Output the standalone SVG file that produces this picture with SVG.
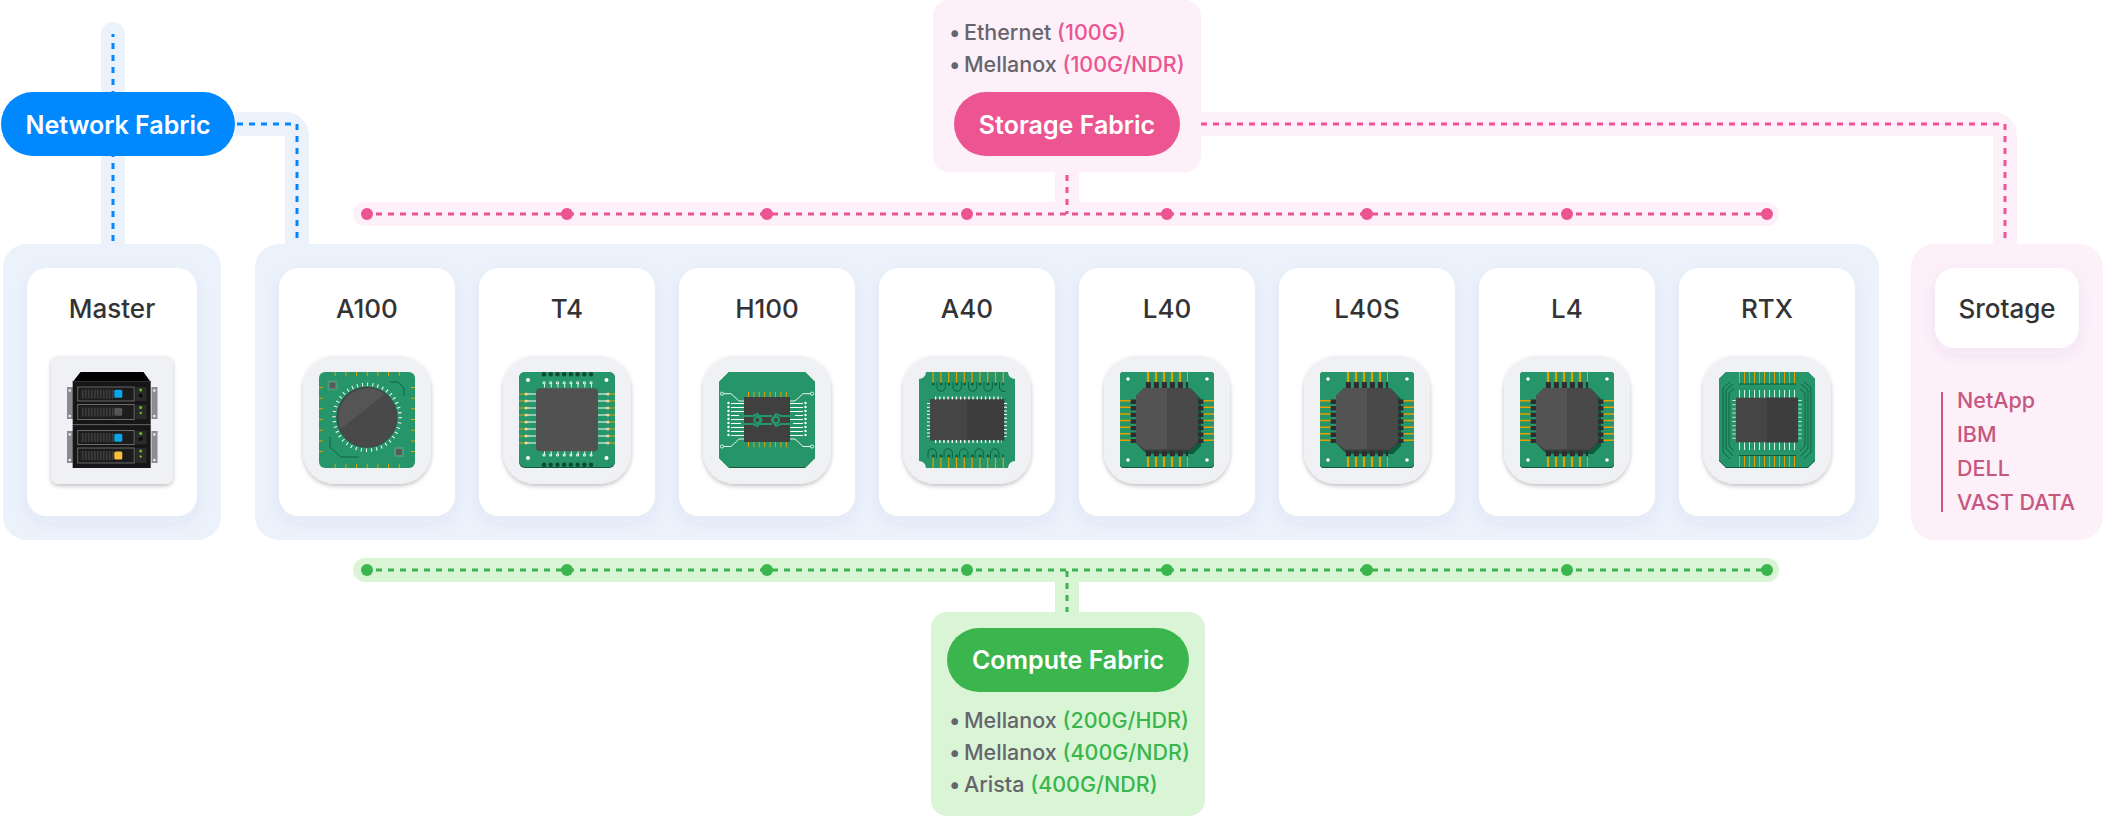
<svg xmlns="http://www.w3.org/2000/svg" width="2103" height="816" viewBox="0 0 2103 816">
<style>
text{font-family:Inter,"Noto Sans","Liberation Sans",sans-serif}
.name{font-size:26px;font-weight:500;fill:#333336;text-anchor:middle}
.pilltxt{font-size:25px;font-weight:600;fill:#fff;text-anchor:middle}
.li{font-size:21.500px;font-weight:500;fill:#65656c}
.pk{fill:#ec5591}.gn{fill:#3bb54d}
.vend{font-size:21.500px;font-weight:500;fill:#c6577f}
.card{fill:#fff;filter:url(#cs)}
.tile{fill:#f0f1f5;filter:url(#ts)}
.chip{filter:url(#soft)}
.dash{fill:none;stroke-width:3;stroke-dasharray:6 6;stroke-dashoffset:3}
.band{fill:none;stroke-width:24}
.gold{fill:none;stroke:#e69f00}
.wh{fill:none;stroke:#fff}
.pcb{fill:#259569}
.edge{fill:#0c5a3c}
.trace{fill:none;stroke:#0d5c3d;stroke-width:.9}
</style>
<defs>
<filter id="cs" x="-20%" y="-20%" width="140%" height="140%"><feDropShadow dx="0" dy="6" stdDeviation="8" flood-color="#3a4a78" flood-opacity=".06"/></filter>
<filter id="ts" x="-20%" y="-20%" width="140%" height="140%"><feDropShadow dx="0" dy="2" stdDeviation="2" flood-color="#000" flood-opacity=".25"/></filter>
<filter id="soft" x="-5%" y="-5%" width="110%" height="110%"><feGaussianBlur stdDeviation=".3"/></filter>
<g id="a100">
<rect width="96" height="96" rx="6" class="pcb"/>
<path d="M15.700 2H81" class="gold" stroke-width="4" stroke-dasharray="1 9.680"/>
<path d="M15.700 94H81" class="gold" stroke-width="4" stroke-dasharray="1 9.680"/>
<path d="M2 15V81" class="gold" stroke-width="4" stroke-dasharray="1 9.680"/>
<path d="M94 15V81" class="gold" stroke-width="4" stroke-dasharray="1 9.680"/>
<rect x="8.500" y="8.500" width="10" height="10" fill="#4c9a7c"/><rect x="10.500" y="10.500" width="6" height="6" fill="#5a5a5a"/>
<rect x="75" y="75" width="10" height="10" fill="#4c9a7c"/><rect x="77" y="77" width="6" height="6" fill="#5a5a5a"/>
<path d="M71 10H79L85 16V24M11 65V75L22 85H40" class="trace"/>
<circle cx="48" cy="45.300" r="33" class="wh" stroke-width="3.500" stroke-dasharray="1 4.180"/>
<circle cx="48" cy="45.300" r="30.500" fill="#3f3f41"/>
<circle cx="48" cy="45.300" r="29.800" fill="#4a4a4a"/>
<path d="M21.500 57A29.500 29.500 0 0 1 66 22Z" fill="#555"/>
</g>
<g id="t4">
<rect width="96" height="96" rx="6" class="edge"/>
<path d="M0 6a6 6 0 0 1 6-6H90a6 6 0 0 1 6 6V89a6 6 0 0 1-6 6H6a6 6 0 0 1-6-6Z" class="pcb"/>
<path d="M25 2.200H74M25 92.800H74" fill="none" stroke="#0b4a32" stroke-width="4.400" stroke-linecap="round" stroke-dasharray="0 6.720"/>
<path d="M25 13H74M25 81H74" class="wh" stroke-width="5" stroke-opacity=".85" stroke-dasharray="1 5.720"/>
<path d="M25 10.700H74M25 83H74" fill="none" stroke="#fff" stroke-width="3" stroke-linecap="round" stroke-dasharray="0 6.720"/>
<path d="M25 10.700H74M25 83H74" fill="none" stroke="#259569" stroke-width="1.200" stroke-linecap="round" stroke-dasharray="0 6.720"/>
<path d="M5 21.600V73M91 21.600V73" class="gold" stroke-width="10" stroke-dasharray="1 6"/>
<path d="M11.500 21.600V73M84.500 21.600V73" class="wh" stroke-width="11" stroke-dasharray="1 6"/>
<path d="M7 22V73M89 22V73" fill="none" stroke="#ecd9a8" stroke-width="3" stroke-linecap="round" stroke-dasharray="0 7"/>
<circle cx="9" cy="8" r="2" fill="#fff"/><circle cx="87.500" cy="8" r="2" fill="#fff"/><circle cx="9" cy="86" r="2" fill="#fff"/><circle cx="87.500" cy="86" r="2" fill="#fff"/>
<rect x="17" y="16.300" width="62" height="63" rx="4" fill="#515151"/>
</g>
<g id="h100">
<path d="M10 0H86L96 10V86L86 96H10L0 86V10Z" class="edge"/>
<path d="M10 0H86L96 10V86L87 95H9L0 86V10Z" class="pcb"/>
<path d="M29 22.500H68M29 72.500H68" class="gold" stroke-width="5.500" stroke-dasharray="1 4.400"/>
<rect x="25" y="25" width="46" height="45" fill="#3f3f3f"/>
<path d="M18.500 31V66M77.500 31V66" class="wh" stroke-width="13" stroke-dasharray=".9 3.100"/>
<path d="M9.500 31V66M86.500 31V66" fill="none" stroke="#fff" stroke-width="2.400" stroke-linecap="round" stroke-dasharray="0 4"/>
<path d="M3 21.700H12L20 29H25M93 21.700H84L76 29H71M3 74.500H12L20 67H25M93 74.500H84L76 67H71" class="wh" stroke-width=".9"/>
<circle cx="3" cy="21.700" r="1.600" class="pcb" stroke="#fff" stroke-width=".8"/><circle cx="93" cy="21.700" r="1.600" class="pcb" stroke="#fff" stroke-width=".8"/><circle cx="3" cy="74.500" r="1.600" class="pcb" stroke="#fff" stroke-width=".8"/><circle cx="93" cy="74.500" r="1.600" class="pcb" stroke="#fff" stroke-width=".8"/>
<path d="M20 44H34L38.300 42 42.600 48 38.300 54 34 52H22M76 44H62L57 42 52.700 48 57 54 62 52H74M38 44H53M38 52H53" fill="none" stroke="#259569" stroke-width="2.200"/>
<circle cx="38.300" cy="48" r="3" fill="none" stroke="#259569" stroke-width="2.200"/><circle cx="57" cy="48" r="3" fill="none" stroke="#259569" stroke-width="2.200"/>
</g>
<g id="a40">
<path d="M7 0H89A7 7 0 0 0 96 7V89A7 7 0 0 0 89 96H7A7 7 0 0 0 0 89V7A7 7 0 0 0 7 0Z" class="pcb"/>
<path d="M13.500 6.500H85M13.500 89.500H85" class="gold" stroke-width="13" stroke-dasharray="1.200 6.600"/>
<path d="M13 12H85M13 84H85" fill="none" stroke="#0d5c3d" stroke-width="2.600" stroke-dasharray="2.600 5.200"/>
<path d="M18 10v5a4.200 4.200 0 0 0 8.400 0v-5M34 10v5a4.200 4.200 0 0 0 8.400 0v-5M49.500 10v5a4.200 4.200 0 0 0 8.400 0v-5M65 10v5a4.200 4.200 0 0 0 8.400 0v-5M80.500 10v5a4.200 4.200 0 0 0 6 4" class="trace"/>
<path d="M9 86v-5a4.200 4.200 0 0 1 8.400 0v5M25 86v-5a4.200 4.200 0 0 1 8.400 0v5M40.500 86v-5a4.200 4.200 0 0 1 8.400 0v5M56 86v-5a4.200 4.200 0 0 1 8.400 0v5M71.500 86v-5a4.200 4.200 0 0 1 8.400 0v5" class="trace"/>
<rect x="11" y="27" width="75" height="42" fill="#2f6d55"/>
<rect x="11" y="27" width="74" height="41" fill="#444"/>
<rect x="48" y="27" width="37" height="41" fill="#3c3c3c"/>
<path d="M16 26H83M16 69.500H83" class="wh" stroke-width="3" stroke-dasharray="1.300 2.860"/>
<path d="M9.500 31V65M86.500 31V65" class="wh" stroke-width="3" stroke-dasharray="1 2.700"/>
</g>
<g id="l40">
<path d="M2 0H92L94 2V94L92 96H2L0 94V2Z" class="edge"/>
<path d="M2 0H92L94 2V93L92 95H2L0 93V2Z" class="pcb"/>
<circle cx="8" cy="7" r="1.800" fill="#fff"/><circle cx="87" cy="7" r="1.800" fill="#fff"/><circle cx="8" cy="88" r="1.800" fill="#fff"/><circle cx="87" cy="88" r="1.800" fill="#fff"/>
<path d="M26.900 5H68M26.900 90H68" class="gold" stroke-width="10" stroke-dasharray="2.200 5.800"/>
<path d="M5.500 28V70M88.500 28V70" class="gold" stroke-width="11" stroke-dasharray="1.500 5.100"/>
<path d="M27 19H73L81 27V74L73 82H27L19 74V27Z" class="edge"/>
<path d="M25.900 13H68M25.900 81H68" fill="none" stroke="#2e2e30" stroke-width="6" stroke-dasharray="5 3"/>
<path d="M13.300 27.500V71M80.700 27.500V71" fill="none" stroke="#2e2e30" stroke-width="5.400" stroke-dasharray="4.400 2.200"/>
<path d="M24 16H70L78 24V71L70 79H24L16 71V24Z" fill="#3a3a3c"/>
<path d="M24 16H47V77.500H24L16 70V24Z" fill="#525252"/>
<path d="M47 16H70L78 24V70L70 77.500H47Z" fill="#4a4a4a"/>
</g>
<g id="rtx">
<path d="M7 0H89L96 7V89L89 96H7L0 89V7Z" class="edge"/>
<path d="M7 0H89L96 7V88L89 95H7L0 88V7Z" class="pcb"/>
<path d="M20 6H77M20 89H77" class="gold" stroke-width="12" stroke-dasharray="1 4"/>
<path d="M20 12H77M20 83.500H77" fill="none" stroke="#0d5c3d" stroke-width="1.200"/>
<path d="M20 22H77M20 74H77" class="wh" stroke-width="7.800" stroke-opacity=".85" stroke-dasharray="1 4"/>
<path d="M11 10L4 16V80L11 87M14 12L7 18V76L14 84M15 17L10 21V74L15 79" class="trace"/>
<path d="M85 10L92 16V80L85 87M82 12L89 18V76L82 84M81 17L86 21V74L81 79" class="trace"/>
<rect x="17" y="25.700" width="62" height="44.600" fill="#444"/>
<rect x="48" y="25.700" width="31" height="44.600" fill="#3c3c3c"/>
<path d="M15 28V67M81 28V67" class="wh" stroke-width="3.200" stroke-opacity=".8" stroke-dasharray="1 3.200"/>
</g>
<g id="unit">
<rect x="0" y="0" width="78" height="43" fill="#121212"/>
<path d="M0 0H78" stroke="#333" stroke-width="1"/>
<g fill="#1c1c1c" stroke="#6a6a6a" stroke-width="1">
<rect x="5" y="5.500" width="56.500" height="14"/><rect x="5" y="23" width="56.500" height="15"/>
</g>
<rect x="8" y="8" width="33" height="9" fill="#3b3b3b"/><rect x="8" y="26" width="33" height="9" fill="#3b3b3b"/>
<path d="M8 12.500H41M8 30.500H41" stroke="#1c1c1c" stroke-width="9" stroke-dasharray="1 2"/>
<g fill="#2a2a2a"><rect x="62.600" y="5.500" width="11.400" height="14"/><rect x="62.600" y="23" width="11.400" height="15"/></g>
<circle cx="68" cy="8.500" r="1.500" fill="#6fbf1a"/><circle cx="68" cy="26" r="1.500" fill="#6fbf1a"/>
<circle cx="68" cy="14" r="2" fill="#0a0a0a"/><circle cx="68" cy="31.500" r="1.200" fill="#6fbf1a"/>
</g>
</defs>

<g id="connectors">
<path d="M113 34V244" class="band" stroke="#ebf2fc"/>
<rect x="101" y="22" width="24" height="40" rx="12" fill="#ebf2fc"/>
<path d="M235 124H285a12 12 0 0 1 12 12V244" class="band" stroke="#ebf2fc"/>
<path d="M1190 124H1993a12 12 0 0 1 12 12V244" class="band" stroke="#fdf0f9"/>
<rect x="353" y="202" width="1426" height="24" rx="12" fill="#fdf0f9"/>
<rect x="353" y="558" width="1426" height="24" rx="12" fill="#d9f5d6"/>
<rect x="1055" y="172" width="24" height="30" fill="#fdf0f9"/>
<rect x="1055" y="582" width="24" height="30" fill="#d9f5d6"/>
<path d="M113 34V244" class="dash" stroke="#0088ff"/>
<path d="M235 124H297V244" class="dash" stroke="#0088ff" style="stroke-dashoffset:-2"/>
<path d="M1201 124H2005V244" class="dash" stroke="#f74f96" style="stroke-dashoffset:0"/>
<path d="M367 214H1767" class="dash" stroke="#ec5591"/>
<path d="M1067 175V214" class="dash" stroke="#ec5591" style="stroke-dashoffset:0"/>
<path d="M367 570H1767" class="dash" stroke="#3bb54d"/>
<path d="M1067 570V612" class="dash" stroke="#3bb54d" style="stroke-dashoffset:-1"/>
<g fill="#ec5591"><circle cx="367" cy="214" r="6"/><circle cx="567" cy="214" r="6"/><circle cx="767" cy="214" r="6"/><circle cx="967" cy="214" r="6"/><circle cx="1167" cy="214" r="6"/><circle cx="1367" cy="214" r="6"/><circle cx="1567" cy="214" r="6"/><circle cx="1767" cy="214" r="6"/></g>
<g fill="#3bb54d"><circle cx="367" cy="570" r="6"/><circle cx="567" cy="570" r="6"/><circle cx="767" cy="570" r="6"/><circle cx="967" cy="570" r="6"/><circle cx="1167" cy="570" r="6"/><circle cx="1367" cy="570" r="6"/><circle cx="1567" cy="570" r="6"/><circle cx="1767" cy="570" r="6"/></g>
</g>

<g id="panels">
<rect x="3" y="244" width="218" height="296" rx="24" fill="#ebf2fc"/>
<rect x="255" y="244" width="1624" height="296" rx="24" fill="#ebf2fc"/>
<rect x="1911" y="244" width="192" height="296" rx="24" fill="#fdf0f9"/>
</g>

<g id="network-fabric">
<rect x="1" y="92" width="234" height="64" rx="32" fill="#0088ff"/>
<text x="118" y="134" class="pilltxt">Network Fabric</text>
</g>

<g id="storage-fabric">
<rect x="933" y="0" width="268" height="172" rx="16" fill="#fdf0f9"/>
<text x="949" y="40" class="li">• <tspan x="964">Ethernet</tspan> <tspan class="pk">(100G)</tspan></text>
<text x="949" y="72" class="li">• <tspan x="964">Mellanox</tspan> <tspan class="pk">(100G/NDR)</tspan></text>
<rect x="954" y="92" width="226" height="64" rx="32" fill="#ec5591"/>
<text x="1067" y="134" class="pilltxt">Storage Fabric</text>
</g>

<g id="compute-fabric">
<rect x="931" y="612" width="274" height="204" rx="16" fill="#d9f5d6"/>
<rect x="947" y="628" width="242" height="64" rx="32" fill="#3bb54d"/>
<text x="1068" y="669" class="pilltxt">Compute Fabric</text>
<text x="949" y="728" class="li">• <tspan x="964">Mellanox</tspan> <tspan class="gn">(200G/HDR)</tspan></text>
<text x="949" y="760" class="li">• <tspan x="964">Mellanox</tspan> <tspan class="gn">(400G/NDR)</tspan></text>
<text x="949" y="792" class="li">• <tspan x="964">Arista</tspan> <tspan class="gn">(400G/NDR)</tspan></text>
</g>

<g id="master">
<rect x="27" y="268" width="170" height="248" rx="20" class="card"/>
<text x="112" y="318" class="name">Master</text>
<rect x="51" y="356" width="122" height="128" rx="8" class="tile"/>
<g class="chip">
<g fill="#8b8b96">
<rect x="67" y="387" width="6" height="32"/><rect x="151.500" y="387" width="6" height="32"/>
<rect x="67" y="431" width="6" height="32"/><rect x="151.500" y="431" width="6" height="32"/>
</g>
<g fill="#eee"><circle cx="69.800" cy="390.500" r="1.300"/><circle cx="69.800" cy="416" r="1.300"/><circle cx="154.300" cy="390.500" r="1.300"/><circle cx="154.300" cy="416" r="1.300"/><circle cx="69.800" cy="434.500" r="1.300"/><circle cx="69.800" cy="460" r="1.300"/><circle cx="154.300" cy="434.500" r="1.300"/><circle cx="154.300" cy="460" r="1.300"/></g>
<path d="M80.500 372H143.500L150.700 382H72.700Z" fill="#000"/>
<use href="#unit" x="72.700" y="381.500"/>
<use href="#unit" x="72.700" y="425"/>
<rect x="114.300" y="389.700" width="8" height="8" rx="1.500" fill="#0ea5e9"/>
<rect x="114.300" y="407.700" width="8" height="8" rx="1.500" fill="#555"/>
<rect x="114.300" y="433.700" width="8" height="8" rx="1.500" fill="#0ea5e9"/>
<rect x="114.300" y="451.500" width="8" height="8" rx="1.500" fill="#fbbf3a"/>
</g>
</g>

<g id="a100-node"><rect x="279" y="268" width="176" height="248" rx="20" class="card"/><text x="367" y="318" class="name">A100</text><rect x="303" y="356" width="128" height="128" rx="32" class="tile"/><g class="chip"><use href="#a100" x="319" y="372"/></g></g>
<g id="t4-node"><rect x="479" y="268" width="176" height="248" rx="20" class="card"/><text x="567" y="318" class="name">T4</text><rect x="503" y="356" width="128" height="128" rx="32" class="tile"/><g class="chip"><use href="#t4" x="519" y="372"/></g></g>
<g id="h100-node"><rect x="679" y="268" width="176" height="248" rx="20" class="card"/><text x="767" y="318" class="name">H100</text><rect x="703" y="356" width="128" height="128" rx="32" class="tile"/><g class="chip"><use href="#h100" x="719" y="372"/></g></g>
<g id="a40-node"><rect x="879" y="268" width="176" height="248" rx="20" class="card"/><text x="967" y="318" class="name">A40</text><rect x="903" y="356" width="128" height="128" rx="32" class="tile"/><g class="chip"><use href="#a40" x="919" y="372"/></g></g>
<g id="l40-node"><rect x="1079" y="268" width="176" height="248" rx="20" class="card"/><text x="1167" y="318" class="name">L40</text><rect x="1104" y="356" width="126" height="128" rx="32" class="tile"/><g class="chip"><use href="#l40" x="1120" y="372"/></g></g>
<g id="l40s-node"><rect x="1279" y="268" width="176" height="248" rx="20" class="card"/><text x="1367" y="318" class="name">L40S</text><rect x="1304" y="356" width="126" height="128" rx="32" class="tile"/><g class="chip"><use href="#l40" x="1320" y="372"/></g></g>
<g id="l4-node"><rect x="1479" y="268" width="176" height="248" rx="20" class="card"/><text x="1567" y="318" class="name">L4</text><rect x="1504" y="356" width="126" height="128" rx="32" class="tile"/><g class="chip"><use href="#l40" x="1520" y="372"/></g></g>
<g id="rtx-node"><rect x="1679" y="268" width="176" height="248" rx="20" class="card"/><text x="1767" y="318" class="name">RTX</text><rect x="1703" y="356" width="128" height="128" rx="32" class="tile"/><g class="chip"><use href="#rtx" x="1719" y="372"/></g></g>

<g id="storage-node">
<rect x="1935" y="268" width="144" height="80" rx="20" class="card"/>
<text x="2007" y="318" class="name">Srotage</text>
<rect x="1941" y="392" width="2" height="120" fill="#c6577f"/>
<text x="1957" y="408" class="vend">NetApp</text>
<text x="1957" y="442" class="vend">IBM</text>
<text x="1957" y="476" class="vend">DELL</text>
<text x="1957" y="510" class="vend">VAST DATA</text>
</g>
</svg>
